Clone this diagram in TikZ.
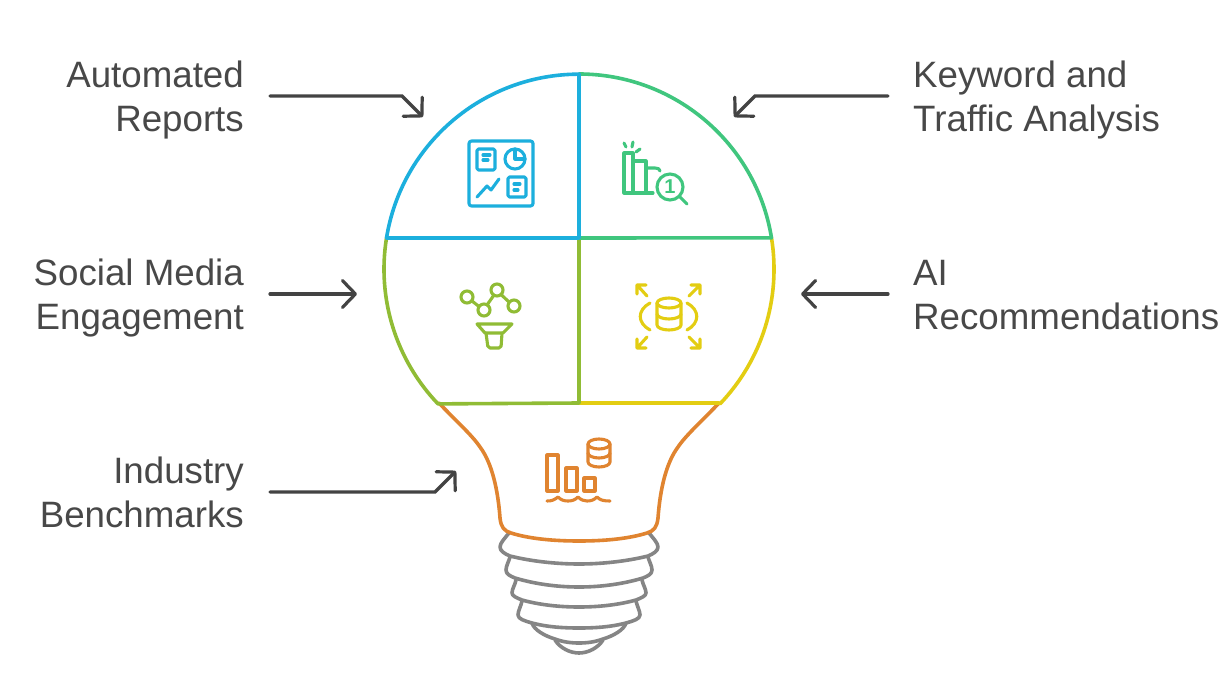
\documentclass[tikz,border=0pt]{standalone}
\usepackage{fontspec}
\setmainfont{Liberation Sans}
\usetikzlibrary{arrows.meta}
\definecolor{cblue}{HTML}{1CAFDD}
\definecolor{cgreen}{HTML}{40C67E}
\definecolor{clime}{HTML}{90BC35}
\definecolor{cyell}{HTML}{E3CD12}
\definecolor{corange}{HTML}{E08430}
\definecolor{cgray}{HTML}{858585}
\definecolor{cdark}{HTML}{434343}
\definecolor{ctext}{HTML}{484848}
\tikzset{
  x=1pt,y=-1pt,
  bulb/.style={line width=3.6pt,line join=round,line cap=round},
  screw/.style={line width=3.6pt,color=cgray,line join=round,line cap=round},
  icon/.style={line width=3.1pt,line join=round,line cap=round},
  lbl/.style={font=\fontsize{36.7}{44}\selectfont,text=ctext,inner sep=0pt},
  lblL/.style={lbl,align=right,anchor=base east},
  lblR/.style={lbl,align=left,anchor=base west},
  pointer/.style={line width=3.2pt,color=cdark,line cap=round,line join=miter,
    -{Straight Barb[length=13pt,width=27pt,round,line width=3.2pt]}},
}
\begin{document}
\begin{tikzpicture}
\path[fill=white,use as bounding box] (0,0) rectangle (1230,687);
% labels (anchor is the baseline of the last line)
\node[lblL] (auto) at (244,131.6) {Automated\\Reports};
\node[lblL] (social) at (244,329.6) {Social Media\\Engagement};
\node[lblL] (industry) at (244,527.6) {Industry\\Benchmarks};
\node[lblR] (keyword) at (913,131.6) {Keyword and\\Traffic Analysis};
\node[lblR] (ai) at (913,329.6) {AI\\Recommendations};
% connector ends
\coordinate (autoS) at (270,96);  \coordinate (autoB) at (402,96);  \coordinate (autoE) at (423,117);
\coordinate (keyS) at (888,96);   \coordinate (keyB) at (755,96);   \coordinate (keyE) at (734,117);
\coordinate (socS) at (270,294);  \coordinate (socE) at (357,294);
\coordinate (aiS) at (888,294);   \coordinate (aiE) at (801,294);
\coordinate (indS) at (270,492);  \coordinate (indB) at (435,492);  \coordinate (indE) at (456,471);
\draw[pointer] (autoS) -- (autoB) -- (autoE);
\draw[pointer] (keyS) -- (keyB) -- (keyE);
\draw[pointer] (socS) -- (socE);
\draw[pointer] (aiS) -- (aiE);
\draw[pointer] (indS) -- (indB) -- (indE);
% screw base
\draw[screw] (509,533) .. controls (505,538) and (500,543) .. (500,547) .. controls (500,551) and (505,554) .. (510,556) .. controls (530,561) and (555,564) .. (579,564) .. controls (603,564) and (628,561) .. (648,556) .. controls (653,554) and (658,551) .. (658,547) .. controls (658,543) and (653,538) .. (649,533);
\draw[screw] (510,557) .. controls (509,561) and (506,566) .. (506,570) .. controls (506,574) and (510,576) .. (515,578) .. controls (535,584) and (557,587) .. (579,587) .. controls (601,587) and (623,584) .. (643,578) .. controls (648,576) and (652,574) .. (652,570) .. controls (652,566) and (649,561) .. (648,557);
\draw[screw] (516,580) .. controls (515,585) and (512,589) .. (512,593) .. controls (512,596) and (517,598) .. (522,600) .. controls (540,605) and (560,607) .. (579,607) .. controls (598,607) and (618,605) .. (636,600) .. controls (641,598) and (646,596) .. (646,593) .. controls (646,589) and (643,585) .. (642,580);
\draw[screw] (522,601) .. controls (521,606) and (518,611) .. (518,615) .. controls (518,619) and (525,621) .. (532,623) .. controls (547,627) and (563,628) .. (579,628) .. controls (595,628) and (611,627) .. (626,623) .. controls (633,621) and (640,619) .. (640,615) .. controls (640,611) and (637,606) .. (636,601);
\draw[screw] (532,623) .. controls (534,630) and (545,636) .. (555,639) .. controls (563,642) and (571,643) .. (579,643) .. controls (587,643) and (595,642) .. (603,639) .. controls (613,636) and (624,630) .. (626,623);
\draw[screw] (555,640) .. controls (560,648) and (570,653) .. (579,653) .. controls (588,653) and (598,648) .. (603,640);
% bulb
\coordinate (c) at (579,269);
\draw[bulb,corange] (439,403) .. controls (455,420) and (472,435) .. (480,447) .. controls (492,463) and (498,490) .. (500,518) .. controls (501,527) and (504,531) .. (511,533) .. controls (530,539) and (555,541) .. (579,541) .. controls (603,541) and (628,539) .. (647,533) .. controls (654,531) and (657,527) .. (658,518) .. controls (660,490) and (666,463) .. (678,447) .. controls (686,435) and (703,420) .. (719,403);
\draw[bulb,cyell] (579,403) -- (719,403) (771.5,238) arc[start angle=-9.2,end angle=43.7,radius=195];
\draw[bulb,clime] (386.5,238) arc[start angle=189.2,end angle=136.3,radius=195] -- (579,403) -- (579,238);
\draw[bulb,cgreen] (579,74) arc[start angle=270,end angle=350.8,radius=195] -- (579,238);
\draw[bulb,cblue] (579,238) -- (386.5,238) arc[start angle=189.2,end angle=270,radius=195] -- cycle;
% report icon
\begin{scope}[icon,cblue]
\draw[rounded corners=2.5pt] (469,141) rectangle (533,206);
\draw[rounded corners=1.5pt] (477,149) rectangle (495,170);
\draw (483,155) -- (490,155) (483,160) -- (488,160);
\draw (515,159) circle[radius=10];
\draw (515,149) -- (515,159) -- (525,159);
\draw[rounded corners=1.5pt] (508,177) rectangle (526,197);
\draw (514,184) -- (520,184) (514,190) -- (518,190);
\draw (477,197) -- (487,186) -- (491,190) -- (499,179);
\end{scope}
% keyword icon
\begin{scope}[icon,cgreen]
\draw (633,193) -- (624,193) -- (624,153) -- (633,153) -- (633,193);
\draw (633,161) -- (646,161) -- (646,193);
\draw (633,193) -- (653,193);
\draw (646,168) -- (655,168) .. controls (658,168) and (660,169) .. (660,171);
\draw (670,187) circle[radius=13];
\draw (680,197) -- (687,204);
\draw (624,143) -- (626,147) (633,142) -- (632,147) (640,149) -- (636,152);
\node[inner sep=0pt,font=\fontsize{20}{20}\bfseries] (one) at (670,187) {1};
\end{scope}
% social icon
\begin{scope}[icon,clime]
\draw (467,297) circle[radius=6] (484,310) circle[radius=6] (497,290) circle[radius=6] (514,306) circle[radius=6];
\draw (472,301) -- (479,306.5) (487,305) -- (494,295) (501,294.5) -- (509,302);
\draw (477,324) -- (512,324) -- (503,333) -- (485,333) -- cycle;
\draw[rounded corners=2pt] (486,333) -- (488,348) -- (501,348) -- (502,333);
\end{scope}
% AI icon
\begin{scope}[icon,cyell]
\draw (657,303) -- (657,325) arc[start angle=180,end angle=0,x radius=12,y radius=5] -- (681,303);
\draw (669,303) ellipse[x radius=12,y radius=5];
\draw (657,314) arc[start angle=180,end angle=0,x radius=12,y radius=5];
\draw (650,303) .. controls (637,310) and (637,323) .. (650,330);
\draw (687,303) .. controls (700,310) and (700,323) .. (687,330);
\draw (647,296) -- (637,285) (637,294) -- (637,285) -- (646,285);
\draw (689,296) -- (700,285) (700,294) -- (700,285) -- (691,285);
\draw (647,337) -- (637,348) (637,339) -- (637,348) -- (646,348);
\draw (689,337) -- (700,348) (700,339) -- (700,348) -- (691,348);
\end{scope}
% benchmark icon
\begin{scope}[icon,corange]
\draw (547,455) rectangle (558,491);
\draw (566,468) rectangle (577,491);
\draw (584,478) rectangle (595,491);
\draw (547,501) .. controls (552,501) and (554,500) .. (558,497) .. controls (561,500) and (564,501) .. (568,501) .. controls (572,501) and (575,500) .. (578,497) .. controls (581,500) and (584,501) .. (587,501) .. controls (591,501) and (594,500) .. (597,497) .. controls (600,500) and (603,501) .. (610,501);
\draw (599,444) ellipse[x radius=11,y radius=5];
\draw (588,444) -- (588,462) arc[start angle=180,end angle=0,x radius=11,y radius=5] -- (610,444);
\draw (588,453) arc[start angle=180,end angle=0,x radius=11,y radius=5];
\end{scope}
\end{tikzpicture}
\end{document}
